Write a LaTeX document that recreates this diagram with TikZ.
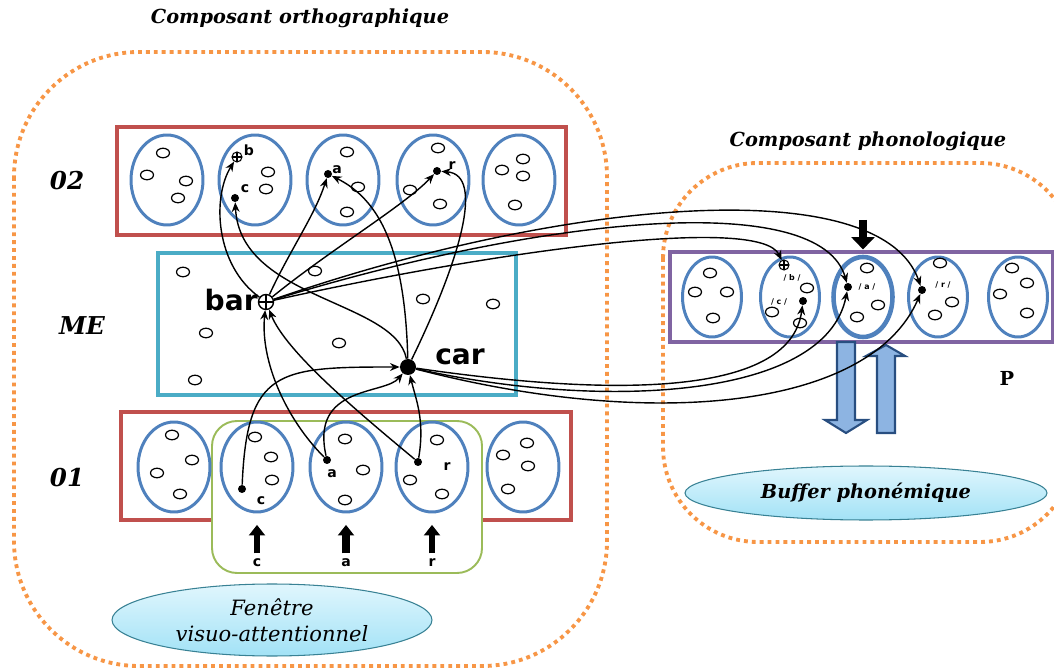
\documentclass[tikz,border=0pt]{standalone}
\usepackage{fontspec}
\setmainfont{DejaVu Serif}
\setsansfont{DejaVu Sans}
\usetikzlibrary{arrows.meta,shapes.geometric}

\definecolor{ortho}{RGB}{247,150,70}
\definecolor{layer}{RGB}{192,80,77}
\definecolor{mecol}{RGB}{75,172,198}
\definecolor{phon}{RGB}{128,100,162}
\definecolor{unitcol}{RGB}{79,129,189}
\definecolor{win}{RGB}{155,187,89}
\definecolor{blk}{RGB}{141,180,226}
\definecolor{blkline}{RGB}{40,78,128}
\definecolor{storetop}{RGB}{224,246,253}
\definecolor{storebot}{RGB}{162,226,246}

\tikzset{
	component/.style={draw=ortho, line width=2.2pt, dash pattern=on 2.2pt off 2.3pt},
	layerbox/.style={draw=layer, line width=2.8pt},
	unit/.style={ellipse, draw=unitcol, line width=1.7pt, minimum width=1.44cm, minimum height=1.8cm, inner sep=0pt},
	punit/.style={unit, minimum width=1.18cm, minimum height=1.6cm},
	cell/.style={ellipse, draw, line width=0.7pt, minimum width=0.26cm, minimum height=0.19cm, inner sep=0pt},
	dot/.style={circle, fill, inner sep=0pt, minimum size=0.16cm},
	odot/.style={circle, draw, fill=white, inner sep=0pt, minimum size=0.2cm, line width=0.6pt,
		path picture={\draw[line width=0.6pt] (path picture bounding box.north) -- (path picture bounding box.south)
			(path picture bounding box.west) -- (path picture bounding box.east);}},
	letter/.style={font=\sffamily\bfseries\fontsize{8}{8}\selectfont, inner sep=0pt},
	plabel/.style={font=\sffamily\bfseries\fontsize{4.5}{5}\selectfont, inner sep=0pt},
	word/.style={font=\sffamily\bfseries\fontsize{16}{16}\selectfont, inner sep=0pt},
	level/.style={font=\bfseries\itshape\fontsize{14}{14}\selectfont},
	title/.style={font=\bfseries\itshape\fontsize{11}{12}\selectfont},
	link/.style={line width=0.8pt, -{Stealth[length=5.5pt,width=4.5pt]}},
	inarrow/.style={line width=3pt, -{Triangle[length=6pt,width=9pt]}},
	store/.style={ellipse, draw=mecol!75!black, line width=0.6pt, top color=storetop, bottom color=storebot, inner sep=0pt},
	blockarrow/.style={draw=blkline, fill=blk, line width=1.2pt},
}

\begin{document}
\begin{tikzpicture}[x=0.02cm, y=-0.02cm]
	\useasboundingbox (0,0) rectangle (1054,671);
	\clip (0,0) rectangle (1054,671);

	\node[title] at (300,18) (torth) {Composant orthographique};
	\node[title] at (868,141) (tphon) {Composant phonologique};
	\draw[component, rounded corners=2.5cm] (14,52) rectangle (607,666);
	\draw[component, rounded corners=1.9cm] (663,163) rectangle (1075,542);

	\node[level] at (67,181) (l2) {02};
	\node[level] at (82,326) (lme) {ME};
	\node[level] at (67,478) (l1) {01};

	% O2
	\draw[layerbox] (117,127) rectangle (566,235);
	\foreach \x [count=\i] in {167,255,343,433,519}
		\node[unit] at (\x,180) (o2-\i) {};
	\foreach \p [count=\k] in {(163,153),(147,175),(186,181),(178,198),(268,172),(266,189),
			(347,152),(358,187),(347,212),(438,148),(410,190),(440,204),
			(523,159),(502,170),(523,176),(515,205)}
		\node[cell] at \p (n2-\k) {};
	\node[odot] at (237,157) (b2) {};
	\node[dot] at (235,198) (c2) {};
	\node[dot] at (328,174) (a2) {};
	\node[dot] at (437,171) (r2) {};
	\node[letter] at (249,150) (lb2) {b};
	\node[letter] at (245,189) (lc2) {c};
	\node[letter] at (337,170) (la2) {a};
	\node[letter] at (452,166) (lr2) {r};

	% ME
	\draw[draw=mecol, line width=2.5pt] (158,253) rectangle (516,395);
	\foreach \p [count=\k] in {(183,272),(315,271),(423,299),(493,304),(206,333),(339,343),(195,380)}
		\node[cell] at \p (nm-\k) {};
	\node[odot, minimum size=0.3cm, line width=0.8pt] at (266,302) (bar) {};
	\node[dot, minimum size=0.32cm] at (408,367) (car) {};
	\node[word, anchor=east] at (258,300) (lbar) {bar};
	\node[word] at (460,357) (lcar) {car};

	% O1
	\draw[layerbox] (121,412) rectangle (571,520);
	\draw[draw=win, line width=1.1pt, fill=white, rounded corners=0.5cm] (212,421) rectangle (482,573);
	\foreach \x [count=\i] in {174,257,346,432,523}
		\node[unit] at (\x,467) (o1-\i) {};
	\foreach \p [count=\k] in {(172,435),(192,460),(157,473),(180,494),(255,437),(271,457),(272,480),
			(345,439),(363,470),(345,500),(437,440),(410,480),(442,494),
			(527,443),(503,455),(528,466),(508,489)}
		\node[cell] at \p (n1-\k) {};
	\node[dot] at (242,489) (c1) {};
	\node[dot] at (327,460) (a1) {};
	\node[dot] at (418,462) (r1) {};
	\node[letter] at (261,501) (lc1) {c};
	\node[letter] at (332,474) (la1) {a};
	\node[letter] at (447,467) (lr1) {r};
	\node[letter] at (257,563) (ic) {c};
	\node[letter] at (346,563) (ia) {a};
	\node[letter] at (432,563) (ir) {r};
	\draw[inarrow, shorten <=3pt, shorten >=6.5pt] (ic) -- (o1-2);
	\draw[inarrow, line width=4.5pt, shorten <=3pt, shorten >=6.5pt] (ia) -- (o1-3);
	\draw[inarrow, shorten <=3pt, shorten >=6.5pt] (ir) -- (o1-4);

	\node[store, minimum width=6.4cm, minimum height=1.44cm, align=center,
		font=\itshape\fontsize{12}{15}\selectfont] at (272,620) (window) {Fenêtre\\visuo-attentionnel};

	% phonologique
	\draw[draw=phon, line width=2.3pt] (670,252) rectangle (1053,342);
	\foreach \x [count=\i] in {712,790,863,938,1018}
		\node[punit] at (\x,297) (p-\i) {};
	\node[punit, line width=2.6pt] at (863,297) (p-3b) {};
	\foreach \p [count=\k] in {(710,273),(695,292),(727,292),(713,318),(807,288),(772,312),(800,323),
			(867,268),(878,305),(857,317),(940,263),(952,302),(935,315),
			(1012,268),(1027,283),(1000,294),(1027,313)}
		\node[cell] at \p (np-\k) {};
	\node[odot] at (784,265) (pb) {};
	\node[dot] at (803,301) (pc) {};
	\node[dot] at (848,287) (pa) {};
	\node[dot] at (922,290) (pr) {};
	\node[plabel] at (792,278) (lpb) {/ b /};
	\node[plabel] at (779,302) (lpc) {/ c /};
	\node[plabel] at (867,287) (lpa) {/ a /};
	\node[plabel] at (943,285) (lpr) {/ r /};
	\coordinate (pin) at (863,220);
	\draw[inarrow, line width=4pt, -{Triangle[length=7pt,width=13pt]}, shorten >=3pt] (pin) -- (p-3b);

	\draw[blockarrow] (837,342) -- (855,342) -- (855,420) -- (867,420) -- (846,433) -- (825,420) -- (837,420) -- cycle;
	\draw[blockarrow] (877,433) -- (895,433) -- (895,356) -- (905,356) -- (886,345) -- (866,356) -- (877,356) -- cycle;
	\node[font=\bfseries\fontsize{11}{11}\selectfont] at (1007,378) (lp) {P};

	\node[store, minimum width=7.24cm, minimum height=1.08cm,
		font=\bfseries\itshape\fontsize{11}{11}\selectfont] at (866,493) (buffer) {Buffer phonémique};

	% liens
	\draw[link] (c1) .. controls (247,369) and (278,367) .. (car);
	\draw[link] (a1) .. controls (287,420) and (260,362) .. (bar);
	\draw[link] (r1) .. controls (358,412) and (286,352) .. (bar);
	\draw[link] (a1) .. controls (310,385) and (385,395) .. (car);
	\draw[link] (r1) .. controls (425,420) and (416,400) .. (car);
	\draw[link] (bar) .. controls (215,265) and (212,197) .. (b2);
	\draw[link] (bar) .. controls (290,250) and (315,215) .. (a2);
	\draw[link] (bar) .. controls (330,250) and (405,205) .. (r2);
	\draw[link] (car) .. controls (395,300) and (240,300) .. (c2);
	\draw[link] (car) .. controls (405,250) and (380,200) .. (a2);
	\draw[link] (car) .. controls (460,260) and (485,175) .. (r2);
	\draw[link] (bar) .. controls (500,250) and (760,215) .. (pb);
	\draw[link] (bar) .. controls (550,215) and (820,190) .. (pa);
	\draw[link] (bar) .. controls (560,200) and (880,170) .. (pr);
	\draw[link] (car) .. controls (600,395) and (790,400) .. (pc);
	\draw[link] (car) .. controls (600,410) and (825,400) .. (pa);
	\draw[link] (car) .. controls (650,430) and (870,410) .. (pr);
\end{tikzpicture}
\end{document}
